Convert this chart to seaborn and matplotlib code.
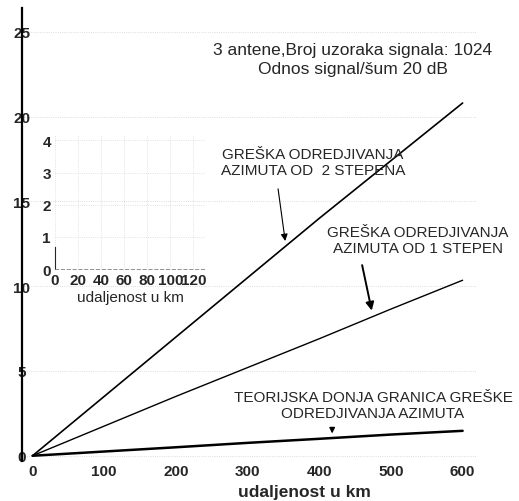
import pandas as pd
import seaborn as sns
import matplotlib.pyplot as plt

# distance in km and azimuth error converted to km
udaljenost = [0, 100, 200, 300, 400, 500, 600]
greska_2_stepena = [0, 3.5, 7.0, 10.5, 14.0, 17.4, 20.8]
greska_1_stepen = [0, 1.75, 3.5, 5.2, 6.9, 8.65, 10.35]
donja_granica = [0, 0.25, 0.5, 0.76, 1.0, 1.25, 1.47]

main_xticks = [0, 100, 200, 300, 400, 500, 600]
main_yticks = [0, 5, 10, 15, 20, 25]
inset_xticks = [0, 20, 40, 60, 80, 100, 120]
inset_yticks = [0, 1, 2, 3, 4]

df = pd.DataFrame({'udaljenost': udaljenost,
                   '2 stepena': greska_2_stepena,
                   '1 stepen': greska_1_stepen,
                   'donja granica': donja_granica})

sns.set_style("white")
plt.rcParams['font.family'] = ['Liberation Sans', 'DejaVu Sans']

fig = plt.figure(figsize=(5.19, 5.02), dpi=100)
ax = fig.add_axes([0.042, 0.080, 0.877, 0.902])

sns.lineplot(data=df, x='udaljenost', y='2 stepena', color='black', lw=1.2, ax=ax)
sns.lineplot(data=df, x='udaljenost', y='1 stepen', color='black', lw=1.0, ax=ax)
sns.lineplot(data=df, x='udaljenost', y='donja granica', color='black', lw=1.8, ax=ax)

ax.set_xlim(-15, 620)
ax.set_ylim(-0.3, 26.4)
ax.set_xticks(main_xticks)
ax.set_yticks(main_yticks)
ax.tick_params(axis='x', length=0, pad=2, labelsize=11)
ax.tick_params(axis='y', length=0, pad=0, labelsize=11)
for lab in ax.get_xticklabels() + ax.get_yticklabels():
    lab.set_fontweight('bold')
for lab in ax.get_yticklabels():
    lab.set_ha('center')
ax.set_ylabel('')
ax.set_xlabel('udaljenost u km', fontsize=12.5, fontweight='bold')
ax.xaxis.set_label_coords(0.62, -0.052)
for s in ['top', 'right', 'bottom']:
    ax.spines[s].set_visible(False)
ax.spines['left'].set_color('black')
ax.spines['left'].set_linewidth(1.6)
ax.yaxis.grid(True, color='0.7', linestyle=':', lw=0.6, alpha=0.6)
ax.set_facecolor('none')

ax.text(447, 23.4, '3 antene,Broj uzoraka signala: 1024\nOdnos signal/šum 20 dB',
        ha='center', va='center', fontsize=12.5, linespacing=1.4)
ax.text(391, 17.3, 'GREŠKA ODREDJIVANJA\nAZIMUTA OD  2 STEPENA',
        ha='center', va='center', fontsize=11, linespacing=1.2)
ax.annotate('', xy=(353, 12.5), xytext=(342, 15.9),
            arrowprops=dict(arrowstyle='-|>', color='black', lw=0.8, mutation_scale=10))
ax.text(538, 12.7, 'GREŠKA ODREDJIVANJA\nAZIMUTA OD 1 STEPEN',
        ha='center', va='center', fontsize=11, linespacing=1.2)
ax.annotate('', xy=(474, 8.4), xytext=(459, 11.4),
            arrowprops=dict(arrowstyle='-|>', color='black', lw=1.4, mutation_scale=12))
ax.text(475, 3.0, 'TEORIJSKA DONJA GRANICA GREŠKE\nODREDJIVANJA AZIMUTA',
        ha='center', va='center', fontsize=11, linespacing=1.2)
ax.annotate('', xy=(418, 1.15), xytext=(418, 1.8),
            arrowprops=dict(arrowstyle='-|>', color='black', lw=1.0, mutation_scale=8))

# small empty inset in the upper left corner
ins = fig.add_axes([0.106, 0.462, 0.289, 0.269])
ins.set_facecolor('none')
ins.set_xlim(0, 130)
ins.set_ylim(0, 4.2)
ins.set_xticks(inset_xticks)
ins.set_yticks(inset_yticks)
ins.tick_params(length=0, pad=3, labelsize=11)
for lab in ins.get_xticklabels() + ins.get_yticklabels():
    lab.set_fontweight('bold')
ins.set_xlabel('udaljenost u km', fontsize=11, labelpad=2)
for s in ['top', 'right']:
    ins.spines[s].set_visible(False)
ins.spines['left'].set_bounds(0, 0.7)
ins.spines['left'].set_linewidth(0.8)
ins.spines['bottom'].set_linestyle((0, (4, 3)))
ins.spines['bottom'].set_color('0.5')
ins.spines['bottom'].set_linewidth(0.6)
ins.grid(True, color='0.75', linestyle=':', lw=0.6, alpha=0.6)

fig.savefig('out.png', dpi=100)
